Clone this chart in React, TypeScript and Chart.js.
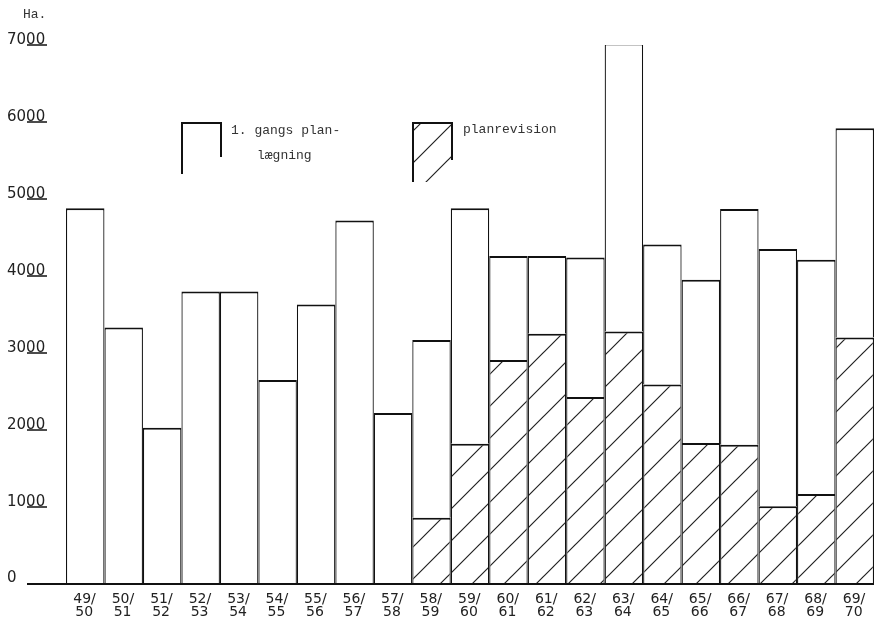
import React, { useEffect, useRef } from "react";
import { Chart, registerables } from "chart.js";

Chart.register(...registerables);

const categories = [
  "49/50", "50/51", "51/52", "52/53", "53/54", "54/55", "55/56", "56/57", "57/58", "58/59",
  "59/60", "60/61", "61/62", "62/63", "63/64", "64/65", "65/66", "66/67", "67/68", "68/69", "69/70",
];

// 1. gangs planlægning (upper, white part)
const forsteGangs = [
  4880, 3330, 2030, 3800, 3800, 2650, 3630, 4720, 2220, 2310,
  3060, 1350, 1010, 1810, 3740, 1820, 2120, 3060, 3340, 3040, 2720,
];

// planrevision (lower, hatched part)
const planrevision = [
  0, 0, 0, 0, 0, 0, 0, 0, 0, 860,
  1820, 2910, 3250, 2430, 3280, 2590, 1830, 1810, 1010, 1170, 3200,
];

const yTicks = [0, 1000, 2000, 3000, 4000, 5000, 6000, 7000];

const legendFirst = ["1. gangs plan-", "lægning"];
const legendRevision = "planrevision";
const unitLabel = "Ha.";

function makeHatch(): CanvasPattern | string {
  const c = document.createElement("canvas");
  c.width = 32;
  c.height = 32;
  const g = c.getContext("2d");
  if (!g) return "#fff";
  g.fillStyle = "#fff";
  g.fillRect(0, 0, 32, 32);
  g.strokeStyle = "#222";
  g.lineWidth = 1.2;
  g.beginPath();
  g.moveTo(-2, 34);
  g.lineTo(34, -2);
  g.moveTo(-2, 2);
  g.lineTo(2, -2);
  g.moveTo(30, 34);
  g.lineTo(34, 30);
  g.stroke();
  const p = g.createPattern(c, "repeat");
  return p || "#fff";
}

export default function App() {
  const ref = useRef<HTMLCanvasElement | null>(null);

  useEffect(() => {
    if (!ref.current) return;
    const hatch = makeHatch();

    const overlay = {
      id: "overlay",
      afterDraw(chart: any) {
        const ctx: CanvasRenderingContext2D = chart.ctx;
        const ys = chart.scales.y;
        const xs = chart.scales.x;
        const y0 = ys.getPixelForValue(0);
        ctx.save();
        // baseline
        ctx.strokeStyle = "#111";
        ctx.lineWidth = 2;
        ctx.beginPath();
        ctx.moveTo(27, y0);
        ctx.lineTo(chart.width, y0);
        ctx.stroke();

        // y ticks
        ctx.fillStyle = "#222";
        ctx.textAlign = "left";
        ctx.textBaseline = "alphabetic";
        ctx.font = '15px "DejaVu Sans"';
        yTicks.forEach((v) => {
          const py = ys.getPixelForValue(v);
          if (v !== 0) {
            ctx.lineWidth = 1.5;
            ctx.beginPath();
            ctx.moveTo(27, py);
            ctx.lineTo(47, py);
            ctx.stroke();
          }
          ctx.fillText(String(v), 7, py - (v === 0 ? 2 : 1));
        });

        // x labels
        ctx.font = '14px "DejaVu Sans"';
        categories.forEach((c, i) => {
          const px = xs.getPixelForValue(i);
          const [a, b] = c.split("/");
          ctx.fillText(a + "/", px - 12, y0 + 19);
          ctx.fillText(b, px - 10, y0 + 32);
        });

        // unit
        ctx.fillStyle = "#333";
        ctx.font = '13px "Liberation Mono"';
        ctx.fillText(unitLabel, 23, 18);

        // legend 1
        ctx.strokeStyle = "#111";
        ctx.lineWidth = 2;
        ctx.beginPath();
        ctx.moveTo(182, 174);
        ctx.lineTo(182, 123);
        ctx.lineTo(221, 123);
        ctx.lineTo(221, 157);
        ctx.stroke();
        ctx.font = '13px "Liberation Mono"';
        ctx.fillText(legendFirst[0], 231, 134);
        ctx.fillText(legendFirst[1], 257, 159);

        // legend 2
        ctx.save();
        ctx.beginPath();
        ctx.rect(413, 123, 39, 59);
        ctx.clip();
        ctx.fillStyle = hatch as any;
        ctx.fillRect(413, 123, 39, 59);
        ctx.restore();
        ctx.beginPath();
        ctx.moveTo(413, 182);
        ctx.lineTo(413, 123);
        ctx.lineTo(452, 123);
        ctx.lineTo(452, 160);
        ctx.stroke();
        ctx.fillStyle = "#333";
        ctx.fillText(legendRevision, 463, 133);
        ctx.restore();
      },
    };

    const border = { top: 2, left: 1.25, right: 1.25, bottom: 0 };

    const chart = new Chart(ref.current, {
      type: "bar",
      data: {
        labels: categories,
        datasets: [
          {
            label: "planrevision",
            data: planrevision,
            backgroundColor: hatch as any,
            borderColor: "#111",
            borderWidth: border as any,
            borderSkipped: false,
            inflateAmount: 0,
            stack: "s",
          },
          {
            label: "1. gangs planlægning",
            data: forsteGangs,
            backgroundColor: "#fff",
            borderColor: "#111",
            borderWidth: border as any,
            borderSkipped: false,
            inflateAmount: 0,
            stack: "s",
          },
        ],
      },
      options: {
        animation: false,
        responsive: false,
        devicePixelRatio: 1,
        layout: { padding: { left: 66, right: 0, top: 45, bottom: 35 } },
        datasets: { bar: { barPercentage: 1, categoryPercentage: 1 } },
        plugins: { legend: { display: false }, tooltip: { enabled: false } },
        scales: {
          x: { stacked: true, display: false },
          y: { stacked: true, display: false, min: 0, max: 7000 },
        },
      },
      plugins: [overlay],
    });

    return () => chart.destroy();
  }, []);

  return (
    <div style={{ position: "absolute", left: 0, top: 0, width: 874, height: 619, background: "#fff" }}>
      <canvas ref={ref} width={874} height={619} style={{ width: 874, height: 619, display: "block" }} />
    </div>
  );
}
